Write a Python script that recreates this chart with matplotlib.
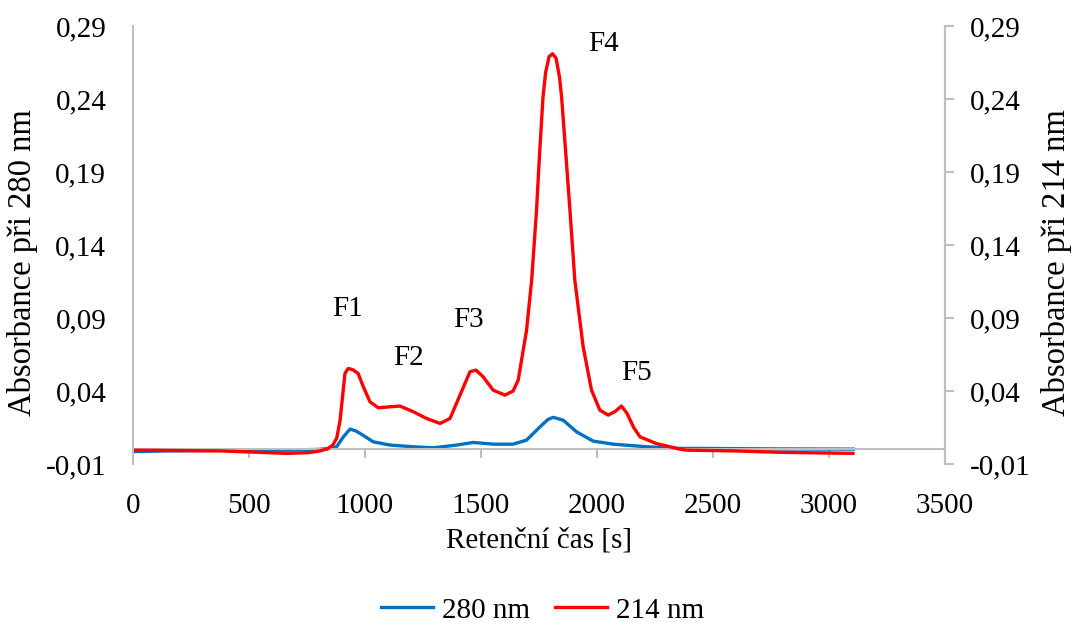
import matplotlib.pyplot as plt

plt.rcParams['font.family'] = ['Liberation Serif', 'DejaVu Serif']
plt.rcParams['font.size'] = 21

# 280 nm trace (s, absorbance)
t_280 = [0, 150, 300, 500, 650, 800, 860, 879, 908, 937, 960, 980, 1037, 1109, 1210,
         1296, 1397, 1468, 1554, 1640, 1698, 1756, 1790, 1813, 1856, 1914, 1985,
         2072, 2216, 2359, 2445, 2733, 3106]
a_280 = [-0.0015, -0.001, -0.0008, -0.0003, -0.0005, 0.0, 0.0008, 0.0018, 0.0086, 0.0139,
         0.0128, 0.011, 0.0052, 0.003, 0.0018, 0.0011, 0.003, 0.0048, 0.0036, 0.0036,
         0.0064, 0.0155, 0.0205, 0.022, 0.020, 0.012, 0.0057, 0.0036, 0.0018, 0.0007,
         0.0007, 0.0004, 0.0002]

# 214 nm trace (s, absorbance)
t_214 = [0, 200, 377, 550, 665, 760, 808, 840, 863, 880, 894, 915, 929, 950, 972, 994,
         1023, 1059, 1109, 1152, 1210, 1267, 1325, 1368, 1411, 1454, 1480, 1511, 1554,
         1605, 1640, 1662, 1698, 1720, 1741, 1755, 1769, 1780, 1795, 1810, 1825, 1840,
         1849, 1866, 1885, 1906, 1942, 1978, 2014, 2050, 2080, 2107, 2130, 2160, 2187,
         2258, 2359, 2388, 2588, 2800, 3105]
a_214 = [-0.0005, -0.0008, -0.001, -0.002, -0.0027, -0.0022, -0.001, 0.0005, 0.003,
         0.008, 0.020, 0.052, 0.0555, 0.0545, 0.052, 0.043, 0.0326, 0.0285, 0.0292,
         0.0297, 0.0258, 0.0212, 0.0178, 0.0212, 0.0372, 0.0532, 0.0543, 0.0497, 0.0406,
         0.0372, 0.040, 0.0475, 0.0817, 0.116, 0.164, 0.205, 0.2415, 0.258, 0.269,
         0.271, 0.268, 0.255, 0.2415, 0.205, 0.164, 0.116, 0.0703, 0.0406, 0.0269,
         0.0235, 0.026, 0.0297, 0.025, 0.015, 0.0086, 0.004, 0.0002, -0.0005, -0.001,
         -0.002, -0.0027]

peak_labels = ['F1', 'F2', 'F3', 'F4', 'F5']
peak_x = [928, 1188, 1447, 2028, 2172]
peak_y = [0.0961, 0.0625, 0.0886, 0.2776, 0.0525]

y_ticks = [-0.01, 0.04, 0.09, 0.14, 0.19, 0.24, 0.29]
x_ticks = [0, 500, 1000, 1500, 2000, 2500, 3000, 3500]

grey = '#BFBFBF'

fig = plt.figure(figsize=(10.72, 6.28), dpi=100)
ax = fig.add_axes([0.1238, 0.2611, 0.7573, 0.6975])
ax2 = ax.twinx()

l1, = ax.plot(t_280, a_280, color='#0070C0', lw=2.4, label='280 nm')
l2, = ax2.plot(t_214, a_214, color='#FF0000', lw=2.4, label='214 nm')

for a in (ax, ax2):
    a.set_xlim(0, 3500)
    a.set_ylim(-0.01, 0.29)
    a.set_yticks(y_ticks)
    a.set_yticklabels([f'{v:.2f}'.replace('.', ',') for v in y_ticks])
    for s in a.spines.values():
        s.set_color(grey)
        s.set_linewidth(1.5)
    a.spines['top'].set_visible(False)

ax.spines['bottom'].set_position(('data', 0))
ax2.spines['bottom'].set_visible(False)
ax.set_xticks(x_ticks)
ax.tick_params(axis='x', direction='out', length=6.5, width=1.5, color=grey, pad=25)
ax.tick_params(axis='y', length=0, pad=19)
ax2.tick_params(axis='y', direction='out', length=6.5, width=1.5, color=grey, pad=12)

ax.set_xlabel('Retenční čas [s]', labelpad=6)
ax.set_ylabel('Absorbance při 280 nm', fontsize=23.5, labelpad=5.5)
ax2.set_ylabel('Absorbance při 214 nm', fontsize=23.5, rotation=90, labelpad=7)
ax.yaxis.label.set_y(0.461)
ax2.yaxis.label.set_y(0.461)

for lab, x, y in zip(peak_labels, peak_x, peak_y):
    ax2.text(x, y, lab, ha='center', va='center')

fig.legend([l1, l2], ['280 nm', '214 nm'], loc='center', bbox_to_anchor=(0.506, 0.028),
           ncol=2, frameon=False, handlelength=1.8, columnspacing=0.85, handletextpad=0.3)

fig.savefig('out.png')
